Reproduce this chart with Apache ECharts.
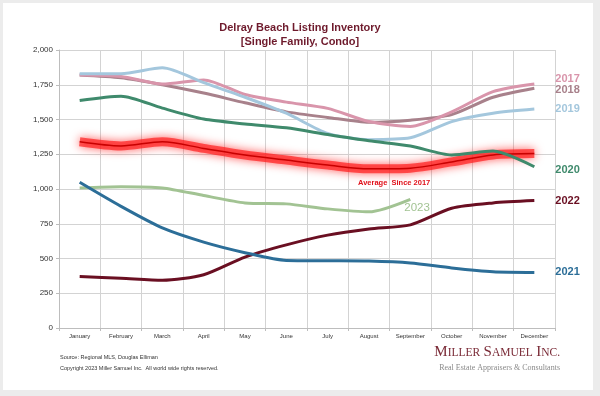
<!DOCTYPE html>
<html>
<head>
<meta charset="utf-8">
<script src="https://cdn.jsdelivr.net/npm/echarts@6/dist/echarts.min.js"></script>
<style>
  html, body { margin: 0; padding: 0; background: #ececec; }
  #chart { width: 600px; height: 396px; }
</style>
</head>
<body>
<div id="chart"></div>
<script>
// months on the x axis
const months = ['January', 'February', 'March', 'April', 'May', 'June', 'July',
  'August', 'September', 'October', 'November', 'December'];

// listing inventory per year
const y2017 = [1820, 1810, 1755, 1785, 1680, 1625, 1580, 1485, 1450, 1555, 1700, 1755];
const y2018 = [1820, 1800, 1750, 1690, 1620, 1555, 1515, 1480, 1495, 1535, 1660, 1725];
const y2019 = [1830, 1830, 1872, 1765, 1660, 1545, 1400, 1355, 1368, 1485, 1545, 1575];
const y2020 = [1637, 1668, 1582, 1503, 1468, 1440, 1392, 1347, 1310, 1245, 1273, 1160];
const y2021 = [1048, 875, 720, 618, 542, 486, 484, 482, 468, 432, 405, 400];
const y2022 = [370, 358, 343, 383, 510, 598, 668, 712, 742, 862, 900, 917];
const y2023 = [1008, 1017, 1008, 953, 900, 893, 857, 836, 926];
const average = [1340, 1310, 1340, 1292, 1245, 1208, 1172, 1145, 1150, 1195, 1245, 1255];

const yTicks = [0, 250, 500, 750, 1000, 1250, 1500, 1750, 2000];

let mychart = echarts.init(document.getElementById('chart'));

// series line with a year label at the right end
function yearLine(name, data, color, offsetY) {
  return {
    name: name,
    type: 'line',
    data: data,
    smooth: 0.25,
    symbol: 'none',
    lineStyle: { color: color, width: 3 },
    endLabel: {
      show: true,
      formatter: name,
      color: color,
      fontFamily: 'Liberation Sans',
      fontWeight: 'bold',
      fontSize: 11,
      distance: 21,
      offset: [0, offsetY]
    }
  };
}

let line2023 = yearLine('2023', y2023, '#a2c393', 0);
// 2023 label sits under the end of its line
line2023.endLabel.distance = 0;
line2023.endLabel.offset = [-6, 9];
line2023.endLabel.fontWeight = 'normal';
line2023.endLabel.fontSize = 11.5;

let option = {
  backgroundColor: '#ececec',
  animation: false,
  title: {
    text: 'Delray Beach Listing Inventory\n[Single Family, Condo]',
    left: 'center',
    top: 16,
    textStyle: {
      color: '#6e1a2c',
      fontFamily: 'Liberation Sans',
      fontWeight: 'bold',
      fontSize: 11,
      lineHeight: 14
    }
  },
  grid: { left: 59, right: 45, top: 50, bottom: 68 },
  xAxis: {
    type: 'category',
    data: months,
    boundaryGap: true,
    axisLine: { lineStyle: { color: '#bdbdbd' } },
    axisTick: { show: true, length: 3, lineStyle: { color: '#bdbdbd' } },
    splitLine: { show: true, lineStyle: { color: '#d3d3d3' } },
    axisLabel: { color: '#333', fontSize: 6, fontFamily: 'Liberation Sans', margin: 5, interval: 0 }
  },
  yAxis: {
    type: 'value',
    min: yTicks[0],
    max: yTicks[yTicks.length - 1],
    interval: 250,
    axisLine: { show: true, lineStyle: { color: '#bdbdbd' } },
    axisTick: { show: true, length: 3, lineStyle: { color: '#bdbdbd' } },
    splitLine: { lineStyle: { color: '#d3d3d3' } },
    axisLabel: {
      color: '#333', fontSize: 8, fontFamily: 'Liberation Sans', margin: 6,
      formatter: v => v.toLocaleString('en-US')
    }
  },
  graphic: [
    { type: 'rect', z: -10, shape: { x: 3, y: 3, width: 590, height: 387 }, style: { fill: '#fff' } },
    { type: 'text', left: 358, top: 179,
      style: { text: 'Average  Since 2017', fill: '#e0101a', font: 'bold 7.5px "Liberation Sans"' } },
    { type: 'text', left: 60, top: 354,
      style: { text: 'Source: Regional MLS, Douglas Elliman', fill: '#333', font: '5.5px "Liberation Sans"' } },
    { type: 'text', left: 60, top: 365,
      style: { text: 'Copyright 2023 Miller Samuel Inc.  All world wide rights reserved.', fill: '#333', font: '5.5px "Liberation Sans"' } },
    { type: 'text', right: 40, top: 345,
      style: {
        text: '{b|M}{s|ILLER} {b|S}{s|AMUEL} {b|I}{s|NC.}',
        rich: {
          b: { fontFamily: 'Liberation Serif', fontSize: 15, fill: '#7a2a36', color: '#7a2a36' },
          s: { fontFamily: 'Liberation Serif', fontSize: 11.5, fill: '#7a2a36', color: '#7a2a36' }
        }
      } },
    { type: 'text', right: 40, top: 364,
      style: { text: 'Real Estate Appraisers & Consultants', fill: '#8a8a8a', font: '8px "Liberation Serif"' } }
  ],
  series: [
    // glow under the average line
    {
      name: 'avgGlow',
      type: 'line',
      data: average,
      smooth: 0.3,
      symbol: 'none',
      silent: true,
      lineStyle: { color: 'rgba(255,30,30,0.7)', width: 9, shadowColor: 'rgba(255,0,0,0.9)', shadowBlur: 10 }
    },
    {
      name: 'Average',
      type: 'line',
      data: average,
      smooth: 0.3,
      symbol: 'none',
      lineStyle: { color: '#c80000', width: 1.5 }
    },
    yearLine('2018', y2018, '#a8818b', 2),
    yearLine('2017', y2017, '#d995ab', -5),
    yearLine('2019', y2019, '#a4c7dd', 0),
    yearLine('2020', y2020, '#3f8a6c', 3),
    line2023,
    yearLine('2022', y2022, '#6a0f22', 0),
    yearLine('2021', y2021, '#2c6e98', 0)
  ]
};

mychart.setOption(option);
</script>
</body>
</html>
